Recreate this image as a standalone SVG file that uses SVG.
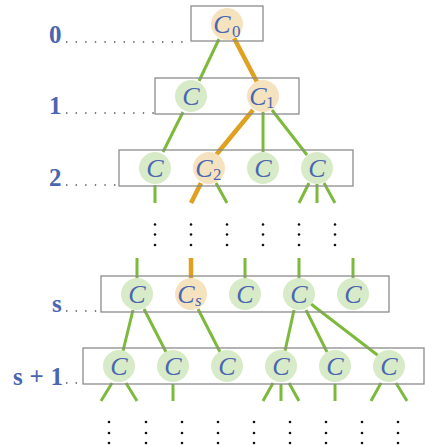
<svg xmlns="http://www.w3.org/2000/svg" width="425" height="446" viewBox="0 0 425 446">
<style>
.box{fill:none;stroke:#8c8c8c;stroke-width:1.3}
.g{stroke:#7dba3c;stroke-width:3;fill:none}
.o{stroke:#e0a020;stroke-width:4.5;fill:none}
.cg{fill:#d8ebc9}
.co{fill:#f5e3c0}
.t{font-family:"Liberation Serif",serif;font-style:italic;font-size:26px;fill:#4a66b0;text-anchor:middle}
.sub{font-family:"Liberation Serif",serif;font-size:17px;fill:#4a66b0}
.subi{font-family:"Liberation Serif",serif;font-style:italic;font-size:17px;fill:#4a66b0}
.lab{font-family:"Liberation Serif",serif;font-weight:bold;font-size:25px;fill:#4a66b0}
.dl{stroke:#555;stroke-width:1.3;stroke-dasharray:1.4 8.2;fill:none}
.dot{fill:#111}
</style>
<g id="labels">
<text class="lab" x="49" y="43">0</text>
<text class="lab" x="49" y="114">1</text>
<text class="lab" x="49" y="186">2</text>
<text class="lab" x="52" y="312">s</text>
<text class="lab" x="13" y="385" textLength="50" lengthAdjust="spacing">s+1</text>
<path class="dl" d="M66 42H188M66 113H154M66 185H118M66 311H100M66 383H82"/>
</g>
<g id="connectors">
<path class="g" d="M219 39L199 81M183 112L163 152M263 112V152M272 110L307 155M155 185V203M216 183L227 203M309 183L299 203M317 184V203M324 183L335 203"/>
<path class="o" d="M234 38L257 82M253 110L216 155M201 183L191 203"/>
<path class="g" d="M137 258V280M245 258V280M299 258V280M353 258V280"/>
<path class="o" d="M191 258V280"/>
<path class="g" d="M133 310L123 351M144 309L166 352M198 309L220 352M294 310L285 351M306 310L327 352M311 304L380 357"/>
<path class="g" d="M112 383L101 401M126 383L137 401M173 384V401M273 383L263 401M281 384V401M289 383L299 401M335 384V401M381 383L371 401M396 383L407 401"/>
</g>
<g id="level0">
<rect class="box" x="191" y="6" width="72" height="35"/>
</g>
<g id="n0"><circle class="co" cx="227" cy="24" r="16"/><text class="t" x="222" y="33">C</text><text class="sub" x="232" y="37">0</text></g>
<g id="level1"><rect class="box" x="155" y="78" width="144" height="36"/></g>
<g id="n1a"><circle class="cg" cx="191" cy="96" r="16"/><text class="t" x="191" y="105">C</text></g>
<g id="n1b"><circle class="co" cx="263" cy="96" r="16"/><text class="t" x="258" y="105">C</text><text class="sub" x="266" y="108">1</text></g>
<g id="level2"><rect class="box" x="119" y="150" width="234" height="36"/></g>
<g id="n2a"><circle class="cg" cx="155" cy="168" r="16"/><text class="t" x="155" y="177">C</text></g>
<g id="n2b"><circle class="co" cx="209" cy="168" r="16"/><text class="t" x="204" y="177">C</text><text class="sub" x="213" y="180">2</text></g>
<g id="n2c"><circle class="cg" cx="263" cy="168" r="16"/><text class="t" x="263" y="177">C</text></g>
<g id="n2d"><circle class="cg" cx="317" cy="168" r="16"/><text class="t" x="317" y="177">C</text></g>
<g id="vdots1">
<g class="dot">
<circle cx="155" cy="224.5" r="1.3"/><circle cx="155" cy="234.5" r="1.3"/><circle cx="155" cy="245" r="1.3"/>
<circle cx="191" cy="224.5" r="1.3"/><circle cx="191" cy="234.5" r="1.3"/><circle cx="191" cy="245" r="1.3"/>
<circle cx="227" cy="224.5" r="1.3"/><circle cx="227" cy="234.5" r="1.3"/><circle cx="227" cy="245" r="1.3"/>
<circle cx="263" cy="224.5" r="1.3"/><circle cx="263" cy="234.5" r="1.3"/><circle cx="263" cy="245" r="1.3"/>
<circle cx="299" cy="224.5" r="1.3"/><circle cx="299" cy="234.5" r="1.3"/><circle cx="299" cy="245" r="1.3"/>
<circle cx="335" cy="224.5" r="1.3"/><circle cx="335" cy="234.5" r="1.3"/><circle cx="335" cy="245" r="1.3"/>
</g>
</g>
<g id="levels"><rect class="box" x="101" y="276" width="288" height="36"/></g>
<g id="ns1"><circle class="cg" cx="137" cy="294" r="16"/><text class="t" x="137" y="303">C</text></g>
<g id="ns2"><circle class="co" cx="191" cy="294" r="16"/><text class="t" x="186" y="303">C</text><text class="subi" x="195" y="306">s</text></g>
<g id="ns3"><circle class="cg" cx="245" cy="294" r="16"/><text class="t" x="245" y="303">C</text></g>
<g id="ns4"><circle class="cg" cx="299" cy="294" r="16"/><text class="t" x="299" y="303">C</text></g>
<g id="ns5"><circle class="cg" cx="353" cy="294" r="16"/><text class="t" x="353" y="303">C</text></g>
<g id="levels1"><rect class="box" x="83" y="348" width="341" height="36"/></g>
<g id="nt1"><circle class="cg" cx="119" cy="366" r="16"/><text class="t" x="119" y="375">C</text></g>
<g id="nt2"><circle class="cg" cx="173" cy="366" r="16"/><text class="t" x="173" y="375">C</text></g>
<g id="nt3"><circle class="cg" cx="227" cy="366" r="16"/><text class="t" x="227" y="375">C</text></g>
<g id="nt4"><circle class="cg" cx="281" cy="366" r="16"/><text class="t" x="281" y="375">C</text></g>
<g id="nt5"><circle class="cg" cx="335" cy="366" r="16"/><text class="t" x="335" y="375">C</text></g>
<g id="nt6"><circle class="cg" cx="389" cy="366" r="16"/><text class="t" x="389" y="375">C</text></g>
<g id="vdots2">
<g class="dot">
<circle cx="109" cy="422" r="1.3"/><circle cx="109" cy="433" r="1.3"/><circle cx="109" cy="443" r="1.3"/>
<circle cx="146" cy="422" r="1.3"/><circle cx="146" cy="433" r="1.3"/><circle cx="146" cy="443" r="1.3"/>
<circle cx="182" cy="422" r="1.3"/><circle cx="182" cy="433" r="1.3"/><circle cx="182" cy="443" r="1.3"/>
<circle cx="218" cy="422" r="1.3"/><circle cx="218" cy="433" r="1.3"/><circle cx="218" cy="443" r="1.3"/>
<circle cx="254" cy="422" r="1.3"/><circle cx="254" cy="433" r="1.3"/><circle cx="254" cy="443" r="1.3"/>
<circle cx="290" cy="422" r="1.3"/><circle cx="290" cy="433" r="1.3"/><circle cx="290" cy="443" r="1.3"/>
<circle cx="326" cy="422" r="1.3"/><circle cx="326" cy="433" r="1.3"/><circle cx="326" cy="443" r="1.3"/>
<circle cx="362" cy="422" r="1.3"/><circle cx="362" cy="433" r="1.3"/><circle cx="362" cy="443" r="1.3"/>
<circle cx="398" cy="422" r="1.3"/><circle cx="398" cy="433" r="1.3"/><circle cx="398" cy="443" r="1.3"/>
</g>
</g>
</svg>
